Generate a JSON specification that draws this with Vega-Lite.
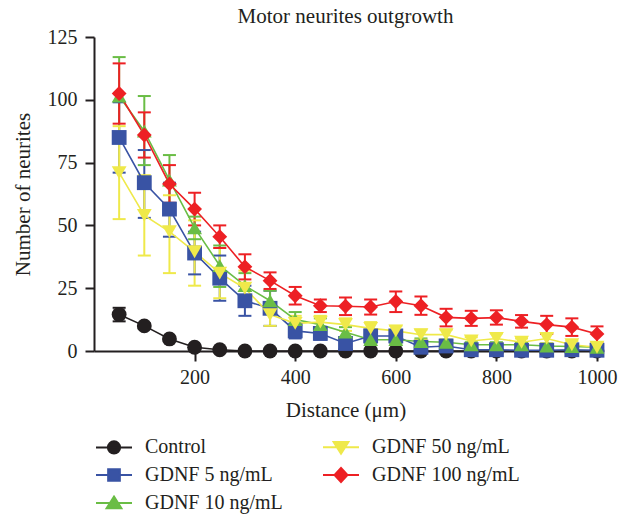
{
  "$schema": "https://vega.github.io/schema/vega-lite/v6.json",
  "width": 503,
  "height": 314,
  "autosize": {"type": "none"},
  "padding": {"left": 94, "top": 37, "right": 32, "bottom": 166},
  "background": "white",
  "title": {"text": "Motor neurites outgrowth", "font": "Liberation Serif", "fontSize": 21, "fontWeight": "normal", "color": "#231f20", "anchor": "middle", "offset": 0},
  "config": {
    "view": {"stroke": null},
    "axis": {"grid": false, "labelFlush": false, "domainColor": "#231f20", "domainWidth": 2, "tickColor": "#231f20", "tickWidth": 2, "labelFont": "Liberation Serif", "labelFontSize": 20, "labelColor": "#231f20", "titleFont": "Liberation Serif", "titleFontSize": 21, "titleFontWeight": "normal", "titleColor": "#231f20"},
    "legend": {"labelFont": "Liberation Serif", "labelFontSize": 20, "labelColor": "#231f20", "padding": 0}
  },
  "data": {"values": [
    {"series": "Control", "d": 50, "m": 14.5, "lo": 11.8, "hi": 17.2},
    {"series": "Control", "d": 100, "m": 10, "lo": 9, "hi": 11},
    {"series": "Control", "d": 150, "m": 4.8, "lo": 4, "hi": 5.5},
    {"series": "Control", "d": 200, "m": 1.5, "lo": 1, "hi": 2},
    {"series": "Control", "d": 250, "m": 0.5, "lo": 0, "hi": 1},
    {"series": "Control", "d": 300, "m": 0, "lo": 0, "hi": 0},
    {"series": "Control", "d": 350, "m": 0, "lo": 0, "hi": 0},
    {"series": "Control", "d": 400, "m": 0, "lo": 0, "hi": 0},
    {"series": "Control", "d": 450, "m": 0, "lo": 0, "hi": 0},
    {"series": "Control", "d": 500, "m": 0, "lo": 0, "hi": 0},
    {"series": "Control", "d": 550, "m": 0, "lo": 0, "hi": 0},
    {"series": "Control", "d": 600, "m": 0, "lo": 0, "hi": 0},
    {"series": "Control", "d": 650, "m": 0, "lo": 0, "hi": 0},
    {"series": "Control", "d": 700, "m": 0, "lo": 0, "hi": 0},
    {"series": "Control", "d": 750, "m": 0, "lo": 0, "hi": 0},
    {"series": "Control", "d": 800, "m": 0, "lo": 0, "hi": 0},
    {"series": "Control", "d": 850, "m": 0, "lo": 0, "hi": 0},
    {"series": "Control", "d": 900, "m": 0, "lo": 0, "hi": 0},
    {"series": "Control", "d": 950, "m": 0, "lo": 0, "hi": 0},
    {"series": "Control", "d": 1000, "m": 0, "lo": 0, "hi": 0},

    {"series": "GDNF 5 ng/mL", "d": 50, "m": 85, "lo": 71, "hi": 99},
    {"series": "GDNF 5 ng/mL", "d": 100, "m": 67, "lo": 53, "hi": 80},
    {"series": "GDNF 5 ng/mL", "d": 150, "m": 56.5, "lo": 45.5, "hi": 67},
    {"series": "GDNF 5 ng/mL", "d": 200, "m": 39, "lo": 30.5, "hi": 47.5},
    {"series": "GDNF 5 ng/mL", "d": 250, "m": 29, "lo": 20, "hi": 38},
    {"series": "GDNF 5 ng/mL", "d": 300, "m": 20, "lo": 14, "hi": 26},
    {"series": "GDNF 5 ng/mL", "d": 350, "m": 17, "lo": 10, "hi": 24},
    {"series": "GDNF 5 ng/mL", "d": 400, "m": 8, "lo": 5, "hi": 11},
    {"series": "GDNF 5 ng/mL", "d": 450, "m": 7, "lo": 4.5, "hi": 9.5},
    {"series": "GDNF 5 ng/mL", "d": 500, "m": 3, "lo": 1, "hi": 5},
    {"series": "GDNF 5 ng/mL", "d": 550, "m": 6, "lo": 3.5, "hi": 8.5},
    {"series": "GDNF 5 ng/mL", "d": 600, "m": 6, "lo": 3.5, "hi": 8},
    {"series": "GDNF 5 ng/mL", "d": 650, "m": 1.5, "lo": 0.5, "hi": 2.5},
    {"series": "GDNF 5 ng/mL", "d": 700, "m": 2, "lo": 1, "hi": 3},
    {"series": "GDNF 5 ng/mL", "d": 750, "m": 0.5, "lo": 0, "hi": 1.5},
    {"series": "GDNF 5 ng/mL", "d": 800, "m": 0.5, "lo": 0, "hi": 1.5},
    {"series": "GDNF 5 ng/mL", "d": 850, "m": 0.3, "lo": 0, "hi": 1},
    {"series": "GDNF 5 ng/mL", "d": 900, "m": 0.3, "lo": 0, "hi": 1},
    {"series": "GDNF 5 ng/mL", "d": 950, "m": 0.5, "lo": 0, "hi": 1.5},
    {"series": "GDNF 5 ng/mL", "d": 1000, "m": 0.3, "lo": 0, "hi": 1},

    {"series": "GDNF 10 ng/mL", "d": 50, "m": 101.5, "lo": 86, "hi": 117},
    {"series": "GDNF 10 ng/mL", "d": 100, "m": 87.5, "lo": 74, "hi": 101.5},
    {"series": "GDNF 10 ng/mL", "d": 150, "m": 68, "lo": 58, "hi": 78},
    {"series": "GDNF 10 ng/mL", "d": 200, "m": 49, "lo": 44.5, "hi": 53.5},
    {"series": "GDNF 10 ng/mL", "d": 250, "m": 34, "lo": 25.5, "hi": 42},
    {"series": "GDNF 10 ng/mL", "d": 300, "m": 26, "lo": 21, "hi": 31},
    {"series": "GDNF 10 ng/mL", "d": 350, "m": 20, "lo": 16, "hi": 24},
    {"series": "GDNF 10 ng/mL", "d": 400, "m": 12.5, "lo": 9.5, "hi": 15.5},
    {"series": "GDNF 10 ng/mL", "d": 450, "m": 10.5, "lo": 8, "hi": 13},
    {"series": "GDNF 10 ng/mL", "d": 500, "m": 7.5, "lo": 5.5, "hi": 9.5},
    {"series": "GDNF 10 ng/mL", "d": 550, "m": 4.5, "lo": 3, "hi": 6},
    {"series": "GDNF 10 ng/mL", "d": 600, "m": 4.5, "lo": 3, "hi": 6},
    {"series": "GDNF 10 ng/mL", "d": 650, "m": 3.8, "lo": 2.5, "hi": 5},
    {"series": "GDNF 10 ng/mL", "d": 700, "m": 3.5, "lo": 2.5, "hi": 4.5},
    {"series": "GDNF 10 ng/mL", "d": 750, "m": 2.5, "lo": 1.5, "hi": 3.5},
    {"series": "GDNF 10 ng/mL", "d": 800, "m": 2.5, "lo": 1.5, "hi": 3.5},
    {"series": "GDNF 10 ng/mL", "d": 850, "m": 2.5, "lo": 1.5, "hi": 3.5},
    {"series": "GDNF 10 ng/mL", "d": 900, "m": 2, "lo": 1, "hi": 3},
    {"series": "GDNF 10 ng/mL", "d": 950, "m": 1.8, "lo": 1, "hi": 2.6},
    {"series": "GDNF 10 ng/mL", "d": 1000, "m": 1.5, "lo": 0.5, "hi": 2.5},

    {"series": "GDNF 50 ng/mL", "d": 50, "m": 71, "lo": 52.5, "hi": 89.5},
    {"series": "GDNF 50 ng/mL", "d": 100, "m": 54, "lo": 38, "hi": 70},
    {"series": "GDNF 50 ng/mL", "d": 150, "m": 47.5, "lo": 31, "hi": 62},
    {"series": "GDNF 50 ng/mL", "d": 200, "m": 39.5, "lo": 26, "hi": 52},
    {"series": "GDNF 50 ng/mL", "d": 250, "m": 31, "lo": 21, "hi": 41},
    {"series": "GDNF 50 ng/mL", "d": 300, "m": 25, "lo": 18, "hi": 32},
    {"series": "GDNF 50 ng/mL", "d": 350, "m": 14.5, "lo": 10, "hi": 19},
    {"series": "GDNF 50 ng/mL", "d": 400, "m": 11, "lo": 8, "hi": 14},
    {"series": "GDNF 50 ng/mL", "d": 450, "m": 11.5, "lo": 9, "hi": 14},
    {"series": "GDNF 50 ng/mL", "d": 500, "m": 10.5, "lo": 8, "hi": 13},
    {"series": "GDNF 50 ng/mL", "d": 550, "m": 9, "lo": 6.5, "hi": 11.5},
    {"series": "GDNF 50 ng/mL", "d": 600, "m": 8, "lo": 6, "hi": 10},
    {"series": "GDNF 50 ng/mL", "d": 650, "m": 6.5, "lo": 4.5, "hi": 8.5},
    {"series": "GDNF 50 ng/mL", "d": 700, "m": 6.5, "lo": 4.5, "hi": 8.5},
    {"series": "GDNF 50 ng/mL", "d": 750, "m": 4, "lo": 2.5, "hi": 5.5},
    {"series": "GDNF 50 ng/mL", "d": 800, "m": 5, "lo": 3, "hi": 7},
    {"series": "GDNF 50 ng/mL", "d": 850, "m": 3.5, "lo": 2, "hi": 5},
    {"series": "GDNF 50 ng/mL", "d": 900, "m": 5, "lo": 3, "hi": 7},
    {"series": "GDNF 50 ng/mL", "d": 950, "m": 2.5, "lo": 1, "hi": 4},
    {"series": "GDNF 50 ng/mL", "d": 1000, "m": 1.5, "lo": 0, "hi": 3},

    {"series": "GDNF 100 ng/mL", "d": 50, "m": 102.5, "lo": 90.5, "hi": 114.5},
    {"series": "GDNF 100 ng/mL", "d": 100, "m": 86, "lo": 77, "hi": 95},
    {"series": "GDNF 100 ng/mL", "d": 150, "m": 66.5, "lo": 59, "hi": 74},
    {"series": "GDNF 100 ng/mL", "d": 200, "m": 56.5, "lo": 50, "hi": 63},
    {"series": "GDNF 100 ng/mL", "d": 250, "m": 45.5, "lo": 41, "hi": 50},
    {"series": "GDNF 100 ng/mL", "d": 300, "m": 33.5, "lo": 28.5, "hi": 38.5},
    {"series": "GDNF 100 ng/mL", "d": 350, "m": 28, "lo": 24.7, "hi": 31.3},
    {"series": "GDNF 100 ng/mL", "d": 400, "m": 22, "lo": 18.5, "hi": 25.5},
    {"series": "GDNF 100 ng/mL", "d": 450, "m": 18, "lo": 15.5, "hi": 20.5},
    {"series": "GDNF 100 ng/mL", "d": 500, "m": 17.8, "lo": 14.3, "hi": 21.3},
    {"series": "GDNF 100 ng/mL", "d": 550, "m": 17.5, "lo": 14.5, "hi": 20.5},
    {"series": "GDNF 100 ng/mL", "d": 600, "m": 19.7, "lo": 15.5, "hi": 23.7},
    {"series": "GDNF 100 ng/mL", "d": 650, "m": 18, "lo": 14.4, "hi": 21.7},
    {"series": "GDNF 100 ng/mL", "d": 700, "m": 13.4, "lo": 9.8, "hi": 16.8},
    {"series": "GDNF 100 ng/mL", "d": 750, "m": 13, "lo": 10, "hi": 16},
    {"series": "GDNF 100 ng/mL", "d": 800, "m": 13.3, "lo": 10.5, "hi": 16.2},
    {"series": "GDNF 100 ng/mL", "d": 850, "m": 11.8, "lo": 9.3, "hi": 14.3},
    {"series": "GDNF 100 ng/mL", "d": 900, "m": 10.5, "lo": 6.8, "hi": 14},
    {"series": "GDNF 100 ng/mL", "d": 950, "m": 9.5, "lo": 6, "hi": 13},
    {"series": "GDNF 100 ng/mL", "d": 1000, "m": 6.8, "lo": 3, "hi": 9.8}
  ]},
  "resolve": {
    "scale": {"shape": "independent"},
    "legend": {"color": "independent", "shape": "independent", "fill": "independent", "stroke": "independent"}
  },
  "encoding": {
    "x": {"field": "d", "type": "quantitative", "scale": {"domain": [0, 1000], "nice": false, "zero": false},
      "axis": {"title": "Distance (μm)", "values": [200, 400, 600, 800, 1000], "format": "d", "tickSize": 10, "labelPadding": 6, "titlePadding": 12}}
  },
  "layer": [
    {"mark": {"type": "rule", "strokeWidth": 2},
     "encoding": {"y": {"field": "lo", "type": "quantitative", "scale": {"domain": [0, 125], "nice": false},
        "axis": {"title": "Number of neurites", "values": [0, 25, 50, 75, 100, 125], "tickSize": 9, "labelPadding": 8, "titlePadding": 14}},
       "y2": {"field": "hi"},
       "color": {"field": "series", "type": "nominal", "legend": null,
         "scale": {"domain": ["Control", "GDNF 5 ng/mL", "GDNF 10 ng/mL", "GDNF 50 ng/mL", "GDNF 100 ng/mL"],
                   "range": ["#231f20", "#3953a4", "#6abd45", "#efe94a", "#ed2024"]}}}},
    {"mark": {"type": "tick", "orient": "horizontal", "size": 13, "thickness": 2, "opacity": 1},
     "encoding": {"y": {"field": "hi", "type": "quantitative"},
       "color": {"field": "series", "type": "nominal", "legend": null}}},
    {"mark": {"type": "tick", "orient": "horizontal", "size": 13, "thickness": 2, "opacity": 1},
     "encoding": {"y": {"field": "lo", "type": "quantitative"},
       "color": {"field": "series", "type": "nominal", "legend": null}}},
    {"mark": {"type": "line", "strokeWidth": 1.6},
     "encoding": {"y": {"field": "m", "type": "quantitative"},
       "color": {"field": "series", "type": "nominal", "legend": null}}},
    {"mark": {"type": "point", "filled": true, "opacity": 1, "size": 220},
     "encoding": {
       "y": {"field": "m", "type": "quantitative"},
       "color": {"field": "series", "type": "nominal", "legend": null},
       "shape": {"field": "series", "type": "nominal", "legend": null,
         "scale": {"domain": ["Control", "GDNF 5 ng/mL", "GDNF 10 ng/mL", "GDNF 50 ng/mL", "GDNF 100 ng/mL"],
                   "range": ["circle", "square", "triangle-up", "triangle-down", "diamond"]}}}},
    {"transform": [{"filter": "false"}],
     "mark": {"type": "point", "filled": true, "opacity": 1, "strokeWidth": 2},
     "encoding": {
       "y": {"field": "m", "type": "quantitative"},
       "fill": {"field": "series", "type": "nominal",
         "scale": {"domain": ["Control", "GDNF 5 ng/mL", "GDNF 10 ng/mL", "GDNF 50 ng/mL", "GDNF 100 ng/mL"],
                   "range": ["#231f20", "#3953a4", "#6abd45", "#efe94a", "#ed2024"]},
         "legend": {"title": null, "orient": "none", "legendX": 10, "legendY": 400, "columns": 2, "columnPadding": 36, "rowPadding": 5, "symbolSize": 324, "labelOffset": 21, "padding": 0, "symbolStrokeWidth": 2}},
       "stroke": {"field": "series", "type": "nominal",
         "scale": {"domain": ["Control", "GDNF 5 ng/mL", "GDNF 10 ng/mL", "GDNF 50 ng/mL", "GDNF 100 ng/mL"],
                   "range": ["#231f20", "#3953a4", "#6abd45", "#efe94a", "#ed2024"]},
         "legend": {"title": null, "orient": "none", "legendX": 10, "legendY": 400, "columns": 2, "columnPadding": 36, "rowPadding": 5, "symbolSize": 324, "labelOffset": 21, "padding": 0, "symbolStrokeWidth": 2}},
       "shape": {"field": "series", "type": "nominal",
         "scale": {"domain": ["Control", "GDNF 5 ng/mL", "GDNF 10 ng/mL", "GDNF 50 ng/mL", "GDNF 100 ng/mL"],
                   "range": ["M-2,0H2M-0.68,0A0.68,0.68 0 1,0 0.68,0A0.68,0.68 0 1,0 -0.68,0Z", "M-2,0H2M-0.65,-0.65H0.65V0.65H-0.65Z", "M-2,0H2M0,-0.72L0.82,0.58L-0.82,0.58Z", "M-2,0H2M0,0.72L0.82,-0.58L-0.82,-0.58Z", "M-2,0H2M0,-0.78L0.72,0L0,0.78L-0.72,0Z"]},
         "legend": {"title": null, "orient": "none", "legendX": 10, "legendY": 400, "columns": 2, "columnPadding": 36, "rowPadding": 5, "symbolSize": 324, "labelOffset": 21, "padding": 0, "symbolStrokeWidth": 2}}}}
  ]
}
